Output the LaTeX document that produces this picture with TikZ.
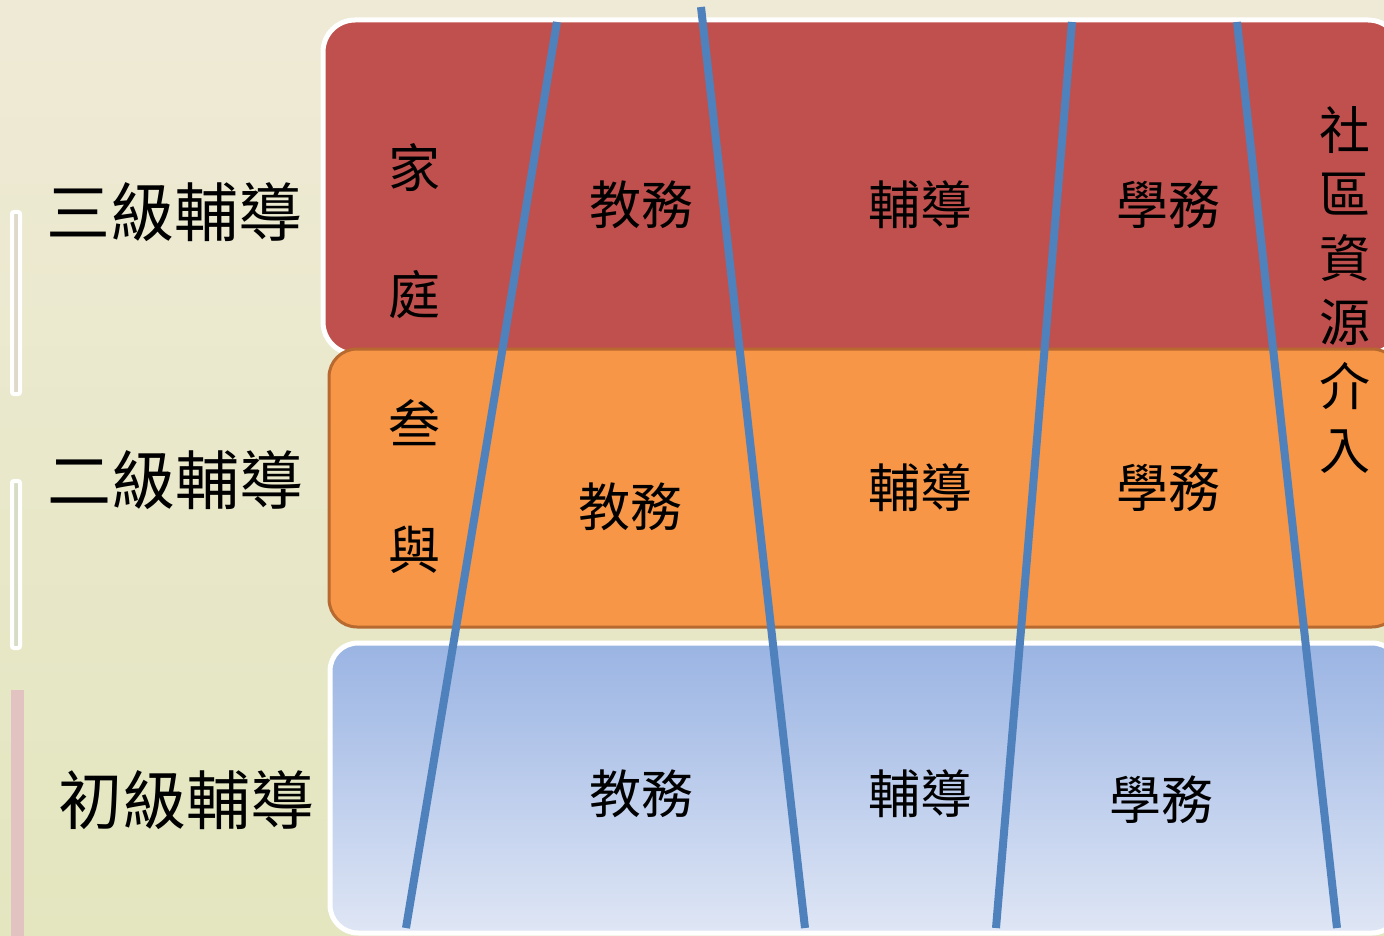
\documentclass[tikz,border=0pt]{standalone}
\usepackage{fontspec}
\newfontfamily\cjk{Noto Sans CJK TC}
\definecolor{bgtop}{HTML}{EFEAD6}
\definecolor{bgbot}{HTML}{E3E6BF}
\definecolor{tierred}{HTML}{C0504D}
\definecolor{tierorange}{HTML}{F79646}
\definecolor{orangeedge}{HTML}{B7692F}
\definecolor{bluetop}{HTML}{9AB4E3}
\definecolor{bluebot}{HTML}{DFE6F5}
\definecolor{lineblue}{HTML}{4F81BD}
\definecolor{barone}{HTML}{DFD9C9}
\definecolor{bartwo}{HTML}{D6DDC4}
\definecolor{barpink}{HTML}{E2C3C1}
\begin{document}
\begin{tikzpicture}[x=1pt,y=-1pt,
  lvl/.style={font=\cjk\fontsize{64}{64}\selectfont, inner sep=0pt},
  job/.style={font=\cjk\fontsize{52}{52}\selectfont, inner sep=0pt},
  side/.style={font=\cjk\fontsize{51}{64}\selectfont, inner sep=0pt, align=center},
  divider/.style={draw=lineblue, line width=8pt},
  marker/.style={draw=white, line width=4pt, rounded corners=2pt}]
  \useasboundingbox (0,0) rectangle (1384,936);
  \clip (0,0) rectangle (1384,936);
  % background
  \shade[top color=bgtop, bottom color=bgbot] (0,0) rectangle (1384,936);
  % level markers
  \filldraw[marker, fill=barone] (12,212) rectangle (20,394);
  \filldraw[marker, fill=bartwo] (12,481) rectangle (20,648);
  \fill[barpink] (11,690) rectangle (24,936);
  % tiers
  \filldraw[draw=white, line width=5pt, fill=tierred, rounded corners=32pt]
    (323,20) rectangle (1400,354);
  \filldraw[draw=orangeedge, line width=3pt, fill=tierorange, rounded corners=28pt]
    (329,349) rectangle (1400,627);
  \draw[white, line width=5pt, rounded corners=28pt,
    top color=bluetop, bottom color=bluebot]
    (330,643) rectangle (1400,933);
  % dividers
  \coordinate (d1top) at (557,22);
  \coordinate (d1bot) at (406,928);
  \coordinate (d2top) at (701,7);
  \coordinate (d2bot) at (805,928);
  \coordinate (d3top) at (1072,22);
  \coordinate (d3bot) at (996,928);
  \coordinate (d4top) at (1237,22);
  \coordinate (d4bot) at (1337,928);
  \draw[divider] (d1top) -- (d1bot);
  \draw[divider] (d2top) -- (d2bot);
  \draw[divider] (d3top) -- (d3bot);
  \draw[divider] (d4top) -- (d4bot);
  % level labels
  \node[lvl] (third) at (174,212) {三級輔導};
  \node[lvl] (second) at (175,480) {二級輔導};
  \node[lvl] (first) at (186,800) {初級輔導};
  % family
  \node[job] (fam1) at (414,168) {家};
  \node[job] (fam2) at (414,295) {庭};
  \node[job] (fam3) at (414,423) {叁};
  \node[job] (fam4) at (414,550) {與};
  % red tier
  \node[job] (teachR) at (641,205) {教務};
  \node[job] (guideR) at (920,205) {輔導};
  \node[job] (studR) at (1168,205) {學務};
  % orange tier
  \node[job] (teachO) at (630,507) {教務};
  \node[job] (guideO) at (920,488) {輔導};
  \node[job] (studO) at (1168,488) {學務};
  % blue tier
  \node[job] (teachB) at (641,794) {教務};
  \node[job] (guideB) at (920,794) {輔導};
  \node[job] (studB) at (1161,800) {學務};
  % community
  \node[side] (community) at (1345,290) {社\\區\\資\\源\\介\\入};
\end{tikzpicture}
\end{document}
